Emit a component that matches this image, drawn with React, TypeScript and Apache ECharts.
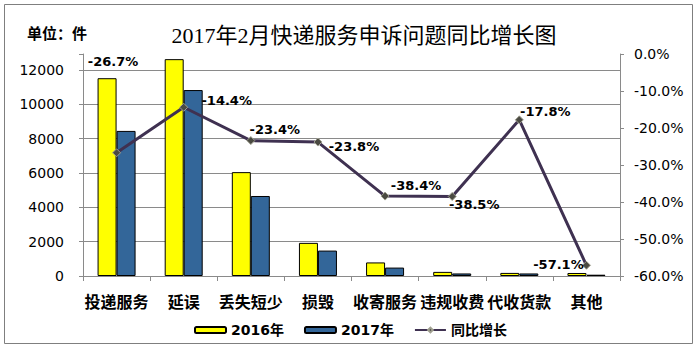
import React, { useEffect, useRef } from 'react';
import * as echarts from 'echarts';

const categories = ['投递服务', '延误', '丢失短少', '损毁', '收寄服务', '违规收费', '代收货款', '其他'];
const values2016 = [11520, 12630, 6050, 1930, 790, 240, 180, 175];
const values2017 = [8450, 10830, 4660, 1480, 490, 148, 148, 75];
const growth = [-26.7, -14.4, -23.4, -23.8, -38.4, -38.5, -17.8, -57.1];
const seriesNames = ['2016年', '2017年', '同比增长'];
const titleText = '2017年2月快递服务申诉问题同比增长图';
const unitText = '单位：件';

// label placement (style only)
const labelOffsets: number[][] = [
  [-3.5, -91], [43, -7], [24, -11], [36, 4], [31, -11], [22, 8], [26, -8], [-28, -1],
];

const GRID = '#8a8a8a';
const NUM_FONT = "'DejaVu Sans', 'Noto Sans CJK SC', sans-serif";
const CJK_FONT = "'Noto Sans CJK SC', sans-serif";

export default function App() {
  const ref = useRef<HTMLDivElement>(null);
  useEffect(() => {
    if (!ref.current) return;
    const chart = echarts.init(ref.current, undefined, { renderer: 'svg' });
    chart.setOption({
      animation: false,
      backgroundColor: '#ffffff',
      grid: { left: 83, right: 79, top: 54, bottom: 78 },
      graphic: [
        {
          type: 'rect',
          silent: true,
          z: -10,
          shape: { x: 4.5, y: 4.5, width: 688, height: 339 },
          style: { fill: 'none', stroke: '#7f7f7f', lineWidth: 1 },
        },
        {
          type: 'text',
          x: 364,
          y: 35,
          style: {
            text: titleText,
            font: "22px 'Liberation Serif', 'Noto Sans CJK SC', serif",
            fill: '#000',
            textAlign: 'center',
            textVerticalAlign: 'middle',
          },
        },
        {
          type: 'text',
          x: 27,
          y: 32,
          style: {
            text: unitText,
            font: "bold 15px 'Noto Sans CJK SC', sans-serif",
            fill: '#000',
            textAlign: 'left',
            textVerticalAlign: 'middle',
          },
        },
      ],
      legend: {
        data: seriesNames,
        left: 189,
        top: 318,
        itemWidth: 31,
        itemHeight: 6,
        itemGap: 20,
        textStyle: { fontFamily: NUM_FONT, fontSize: 14, fontWeight: 'bold', color: '#000' },
      },
      xAxis: {
        type: 'category',
        data: categories,
        axisLine: { lineStyle: { color: GRID, width: 1 } },
        axisTick: { show: true, length: 5, lineStyle: { color: GRID } },
        axisLabel: {
          interval: 0,
          margin: 17,
          fontFamily: CJK_FONT,
          fontSize: 16,
          fontWeight: 'bold',
          color: '#000',
          hideOverlap: false,
        },
      },
      yAxis: [
        {
          type: 'value',
          min: 0,
          max: 12930,
          interval: 2000,
          axisLine: { show: true, lineStyle: { color: GRID } },
          axisTick: { show: true, length: 4, lineStyle: { color: GRID } },
          splitLine: { show: true, showMaxLine: false, lineStyle: { color: GRID, width: 1 } },
          axisLabel: {
            margin: 19,
            fontFamily: NUM_FONT,
            fontSize: 14,
            color: '#000',
            formatter: (v: number) => (v % 2000 === 0 ? String(v) : ''),
          },
        },
        {
          type: 'value',
          min: -60,
          max: 0,
          interval: 10,
          position: 'right',
          axisLine: { show: true, lineStyle: { color: GRID } },
          axisTick: { show: true, length: 4, lineStyle: { color: GRID } },
          splitLine: { show: false },
          axisLabel: {
            margin: 14,
            fontFamily: NUM_FONT,
            fontSize: 14,
            color: '#000',
            formatter: (v: number) => v.toFixed(1) + '%',
          },
        },
      ],
      series: [
        {
          name: seriesNames[0],
          type: 'bar',
          data: values2016,
          barWidth: 19,
          barGap: '0%',
          itemStyle: { color: '#ffff00', borderColor: '#000', borderWidth: 1 },
        },
        {
          name: seriesNames[1],
          type: 'bar',
          data: values2017,
          barWidth: 19,
          barGap: '0%',
          itemStyle: { color: '#336699', borderColor: '#000', borderWidth: 1 },
        },
        {
          name: seriesNames[2],
          type: 'line',
          yAxisIndex: 1,
          z: 5,
          data: growth.map((v, i) => ({ value: v, label: { offset: labelOffsets[i] } })),
          symbol: 'diamond',
          symbolSize: 8,
          lineStyle: { color: '#3f3151', width: 3 },
          itemStyle: { color: '#4a4a42', borderColor: '#a0a090', borderWidth: 1 },
          label: {
            show: true,
            position: 'inside',
            fontFamily: NUM_FONT,
            fontSize: 13,
            fontWeight: 'bold',
            color: '#000',
            formatter: (p: any) => Number(p.value).toFixed(1) + '%',
          },
        },
      ],
    });
    return () => chart.dispose();
  }, []);
  return (
    <div
      ref={ref}
      style={{ position: 'fixed', left: 0, top: 0, width: 699, height: 354 }}
    />
  );
}
